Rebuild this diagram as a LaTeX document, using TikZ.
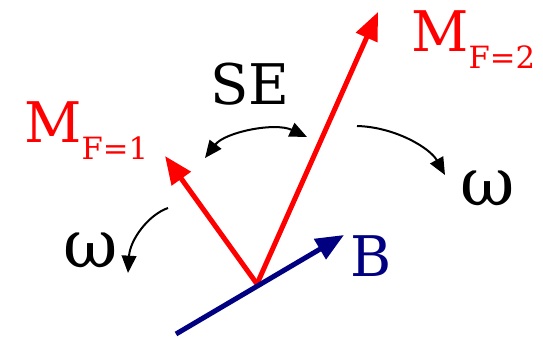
\documentclass[tikz,border=0pt]{standalone}
\usepackage{fontspec}
\newfontfamily\labfont{DejaVu Serif}
\usetikzlibrary{arrows.meta}

\definecolor{bnavy}{RGB}{0,0,128}
\newcommand{\bigtxt}{\labfont\fontsize{42}{46}\selectfont}
\newcommand{\subtxt}[1]{{\fontsize{23}{26}\selectfont\raisebox{-12.5pt}{#1}}}

\begin{document}
\begin{tikzpicture}[x=0.75pt,y=-0.75pt,
  vec/.style={line width=3.75pt,-{Triangle[length=21pt,width=17pt]}},
  spin/.style={line width=1.5pt,black},
  lbl/.style={anchor=base west,inner sep=0pt,font=\bigtxt}]
\useasboundingbox (0,0) rectangle (543,338);

% spin vectors and field
\coordinate (o) at (257,284);
\coordinate (m2) at (378,12);
\coordinate (m1) at (165,156);
\coordinate (b0) at (176,334);
\coordinate (b1) at (344,235);
\draw [vec,red] (o) -- (m2);
\draw [vec,red] (o) -- (m1);
\draw [vec,bnavy] (b0) -- (b1);

% precession and spin exchange arcs
\coordinate (se0) at (205,158);
\coordinate (se1) at (307,137);
\coordinate (wr0) at (357,126);
\coordinate (wr1) at (445,175);
\coordinate (wl0) at (168,208);
\coordinate (wl1) at (128,273);
\draw [spin,{Triangle[length=13pt,width=11pt]}-{Triangle[length=13pt,width=11pt]}] (se0) .. controls (225,132) and (275,122) .. (se1);
\draw [spin,-{Triangle[length=13pt,width=11pt]}] (wr0) .. controls (395,127) and (430,148) .. (wr1);
\draw [spin,-{Triangle[length=13pt,width=11pt]}] (wl0) .. controls (148,215) and (130,240) .. (wl1);

% labels
\node (lm2) [lbl,red] at (411,52) {M\subtxt{F=2}};
\node (lm1) [lbl,red] at (24,143) {M\subtxt{F=1}};
\node (lse) [lbl] at (210,105) {SE};
\node (lb) [lbl,bnavy] at (350,277) {B};
\node (lwr) [lbl,font=\labfont\fontsize{50}{54}\selectfont] at (460,206) {ω};
\node (lwl) [lbl,font=\labfont\fontsize{50}{54}\selectfont] at (63,268) {ω};
\end{tikzpicture}
\end{document}
